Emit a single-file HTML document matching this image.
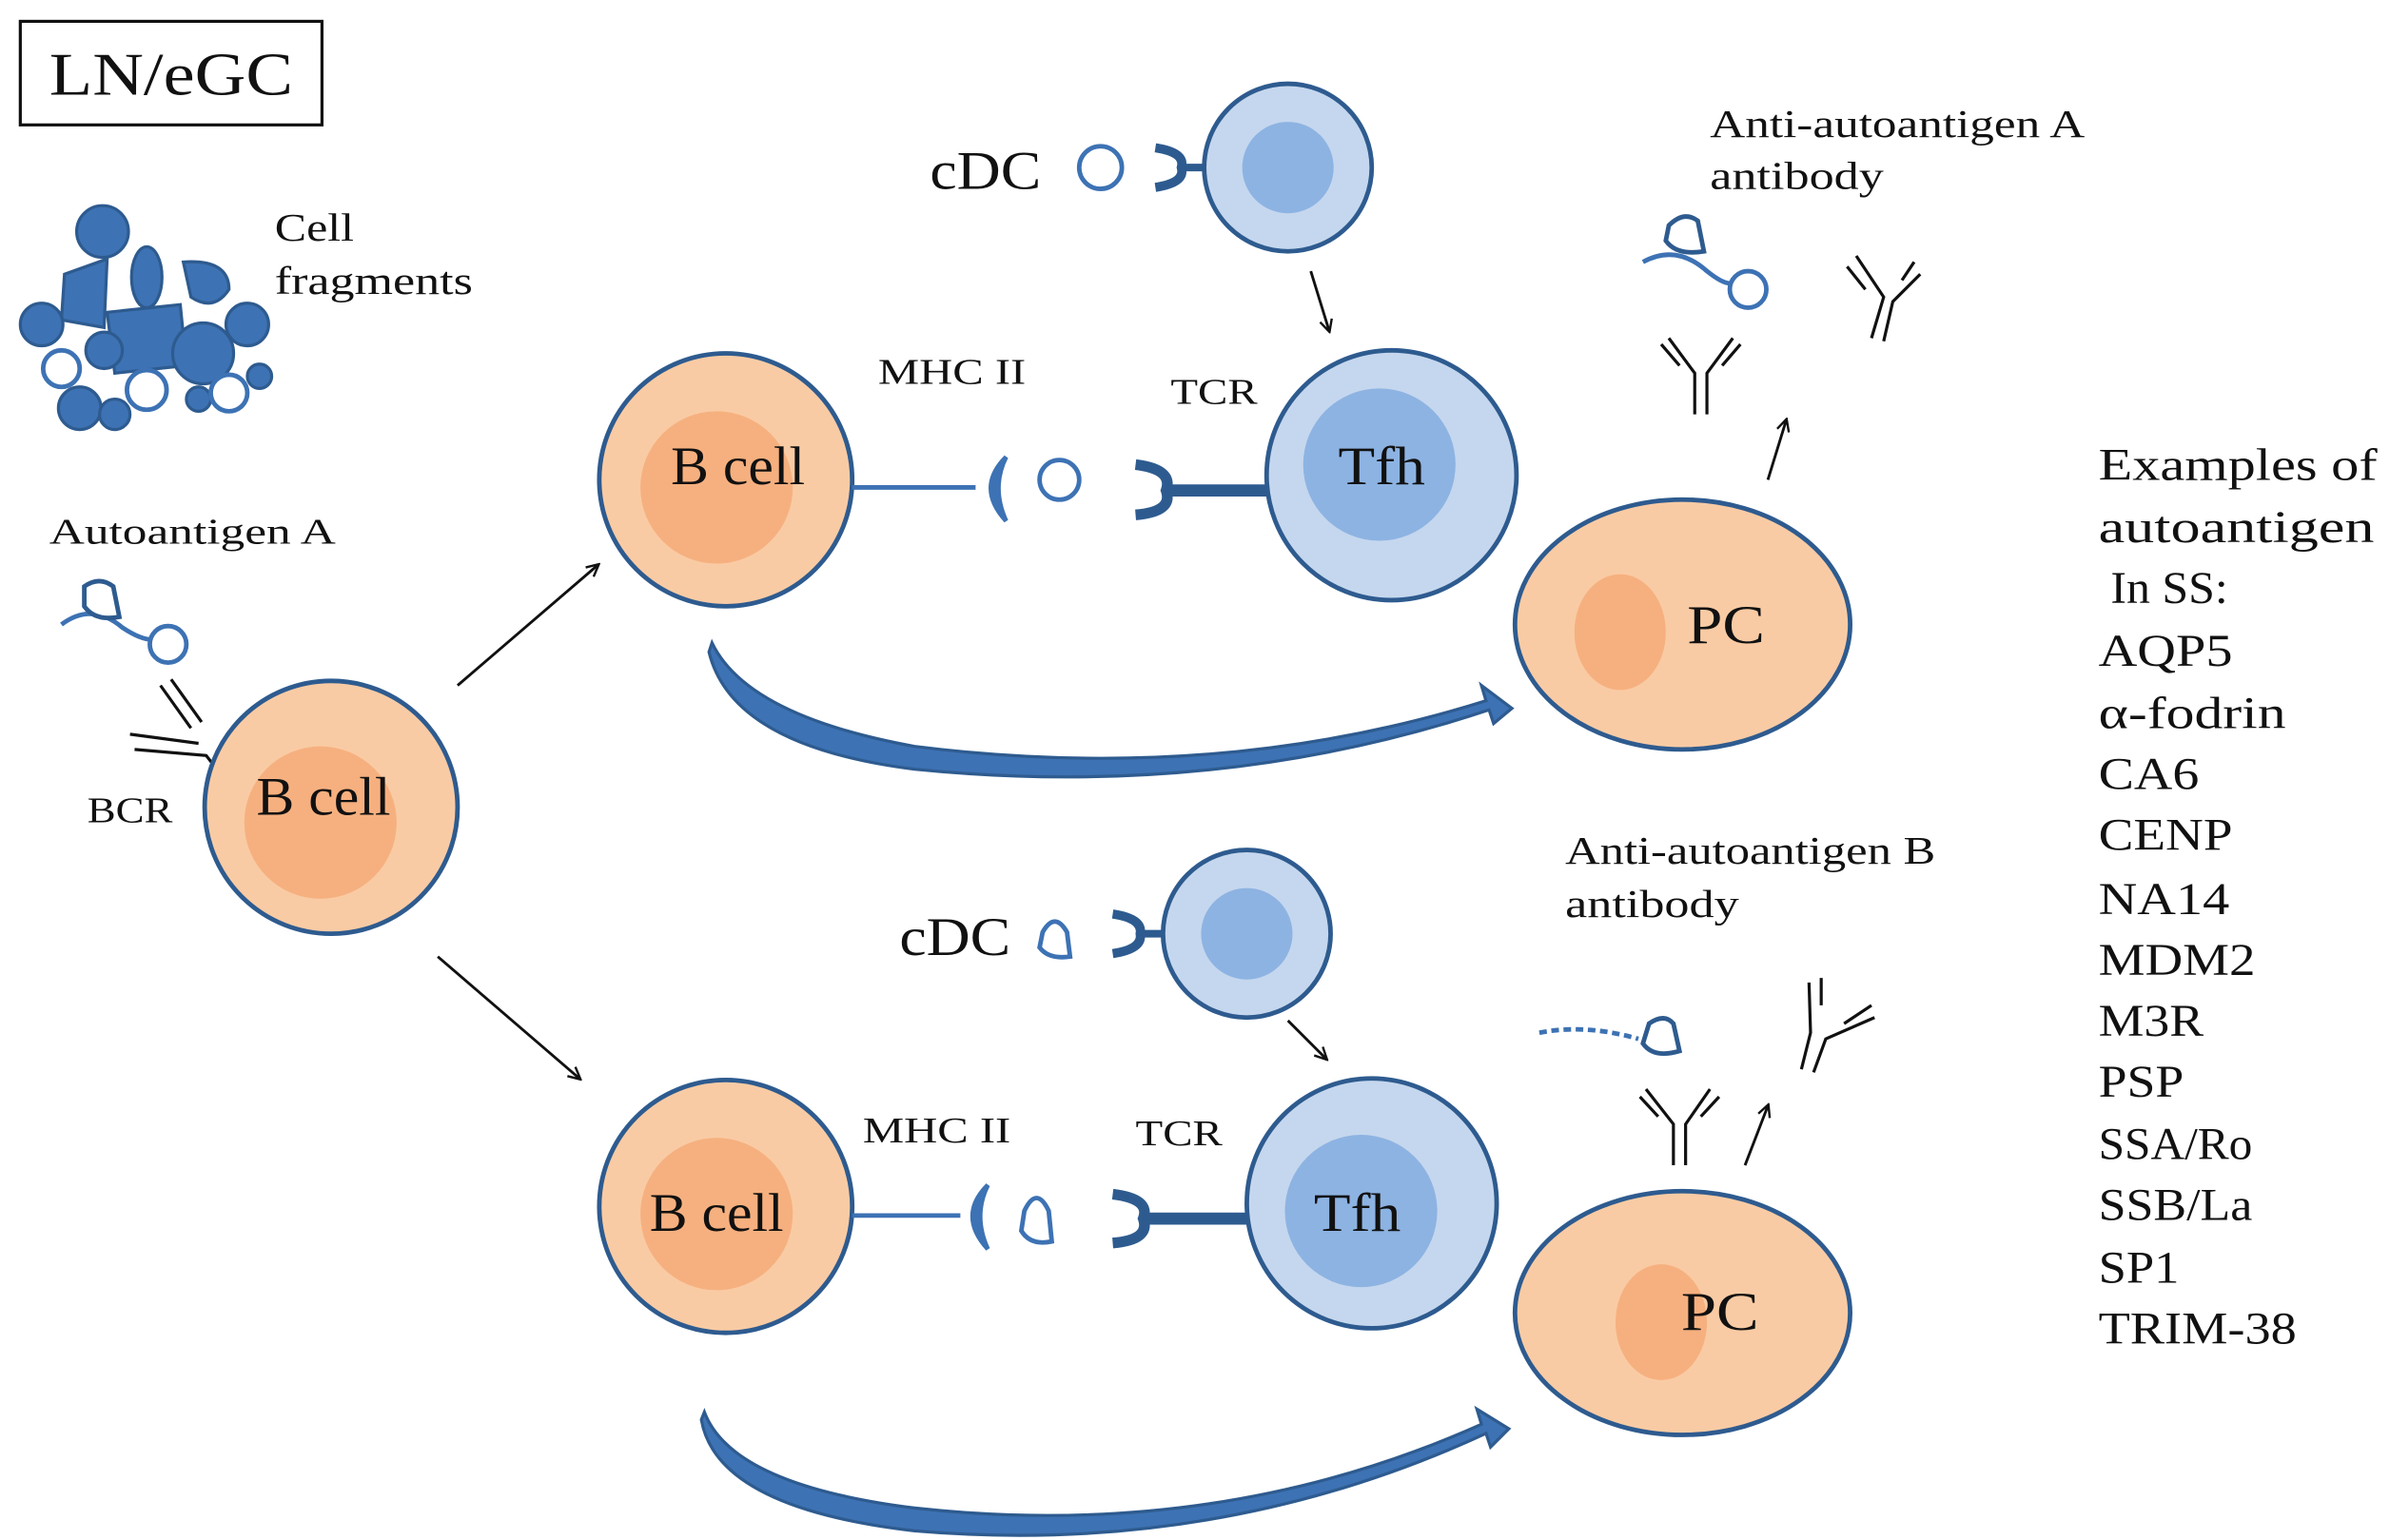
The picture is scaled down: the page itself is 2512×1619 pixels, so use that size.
<!DOCTYPE html>
<html><head><meta charset="utf-8"><style>
html,body{margin:0;padding:0;background:#fff}
svg{display:block}
text{font-family:"Liberation Serif",serif;fill:#111}
</style></head><body>
<svg width="2512" height="1619" viewBox="0 0 1568 1011" xmlns="http://www.w3.org/2000/svg">
<defs>
<marker id="ar" markerWidth="10" markerHeight="10" refX="8" refY="5" orient="auto" markerUnits="userSpaceOnUse">
<path d="M1,1 L9,5 L1,9" fill="none" stroke="#111" stroke-width="1.5"/></marker>
</defs>
<rect x="13" y="14" width="198" height="68" fill="#fff" stroke="#111" stroke-width="2"/>
<text x="32" y="62" font-size="40" textLength="160" lengthAdjust="spacingAndGlyphs">LN/eGC</text>

<g fill="#3d72b4" stroke="#2e5b8f" stroke-width="2">
<circle cx="67" cy="152" r="17"/><path d="M42,180 L70,170 L68,215 L40,210Z"/><ellipse cx="96" cy="182" rx="10" ry="20"/>
<path d="M120,172 Q150,170 150,190 Q140,205 125,195Z"/><circle cx="27" cy="213" r="14"/><path d="M70,205 L118,200 L122,240 L75,245Z"/>
<circle cx="133" cy="232" r="20"/><circle cx="162" cy="213" r="14"/><circle cx="68" cy="230" r="12"/><circle cx="52" cy="268" r="14"/>
<circle cx="75" cy="272" r="10"/><circle cx="130" cy="262" r="8"/><circle cx="170" cy="247" r="8"/>
</g>
<g fill="#fff" stroke="#3d72b4" stroke-width="3"><circle cx="40" cy="242" r="12"/><circle cx="96" cy="256" r="13"/><circle cx="150" cy="258" r="12"/></g>
<text x="180" y="158" font-size="26" textLength="52" lengthAdjust="spacingAndGlyphs">Cell</text><text x="180" y="193" font-size="26" textLength="130" lengthAdjust="spacingAndGlyphs">fragments</text>

<text x="32" y="357" font-size="24" textLength="188" lengthAdjust="spacingAndGlyphs">Autoantigen A</text>
<g stroke="#3d72b4" stroke-width="3" fill="none">
<path d="M40,410 Q60,395 80,412 Q92,420 100,420"/><path d="M55,385 Q65,378 74,385 L78,405 Q62,408 55,398Z" stroke="#2e5b8f" fill="#fff"/>
<circle cx="110" cy="423" r="12" fill="#fff"/></g>
<g stroke="#111" stroke-width="2" fill="none"><path d="M105,450 L125,478 M112,446 L132,474 M85,482 L130,488 M88,492 L135,496 L142,505"/></g>
<text x="57" y="540" font-size="24" textLength="56" lengthAdjust="spacingAndGlyphs">BCR</text>

<g stroke="#2e5b8f" stroke-width="3">
<circle cx="217" cy="530" r="83" fill="#f9cba4"/><circle cx="476" cy="315" r="83" fill="#f9cba4"/><circle cx="476" cy="792" r="83" fill="#f9cba4"/>
<circle cx="913" cy="312" r="82" fill="#c5d7ee"/><circle cx="900" cy="790" r="82" fill="#c5d7ee"/>
<circle cx="845" cy="110" r="55" fill="#c5d7ee"/><circle cx="818" cy="613" r="55" fill="#c5d7ee"/>
<ellipse cx="1104" cy="410" rx="110" ry="82" fill="#f9cba4"/><ellipse cx="1104" cy="862" rx="110" ry="80" fill="#f9cba4"/>
</g>
<g fill="#f6b07f"><circle cx="210" cy="540" r="50"/><circle cx="470" cy="320" r="50"/><circle cx="470" cy="797" r="50"/>
<ellipse cx="1063" cy="415" rx="30" ry="38"/><ellipse cx="1090" cy="868" rx="30" ry="38"/></g>
<g fill="#8db3e2"><circle cx="905" cy="305" r="50"/><circle cx="893" cy="795" r="50"/><circle cx="845" cy="110" r="30"/><circle cx="818" cy="613" r="30"/></g>

<g font-size="36" lengthAdjust="spacingAndGlyphs">
<text x="168" y="535" textLength="88" lengthAdjust="spacingAndGlyphs">B cell</text>
<text x="440" y="318" textLength="88" lengthAdjust="spacingAndGlyphs">B cell</text>
<text x="426" y="808" textLength="88" lengthAdjust="spacingAndGlyphs">B cell</text>
<text x="878" y="318" textLength="57" lengthAdjust="spacingAndGlyphs">Tfh</text>
<text x="862" y="808" textLength="57" lengthAdjust="spacingAndGlyphs">Tfh</text>
<text x="1107" y="422" textLength="51" lengthAdjust="spacingAndGlyphs">PC</text>
<text x="1103" y="873" textLength="51" lengthAdjust="spacingAndGlyphs">PC</text>
<text x="610" y="124" textLength="73" lengthAdjust="spacingAndGlyphs">cDC</text>
<text x="590" y="627" textLength="73" lengthAdjust="spacingAndGlyphs">cDC</text></g>
<g font-size="24">
<text x="576" y="252" textLength="97" lengthAdjust="spacingAndGlyphs">MHC II</text>
<text x="768" y="265" textLength="57" lengthAdjust="spacingAndGlyphs">TCR</text>
<text x="566" y="750" textLength="97" lengthAdjust="spacingAndGlyphs">MHC II</text>
<text x="745" y="752" textLength="57" lengthAdjust="spacingAndGlyphs">TCR</text></g>

<g stroke="#3d72b4" stroke-width="3" fill="none">
<line x1="559" y1="320" x2="640" y2="320"/>
<path d="M660,300 Q640,320 660,342 Q650,320 660,300Z" fill="#3d72b4"/>
<circle cx="695" cy="315" r="13" fill="#fff"/>
<line x1="559" y1="798" x2="630" y2="798"/>
<path d="M648,778 Q628,798 648,820 Q638,798 648,778Z" fill="#3d72b4"/>
<path d="M672,795 Q680,778 688,795 L690,815 Q676,818 670,808Z" fill="#fff"/>
</g>
<g stroke="#2e5b8f" fill="none">
<line x1="765" y1="322" x2="832" y2="322" stroke-width="8"/><path d="M745,305 Q770,308 765,322 Q770,336 745,338" stroke-width="7"/>
<line x1="750" y1="800" x2="818" y2="800" stroke-width="8"/><path d="M730,784 Q755,787 750,800 Q755,814 730,816" stroke-width="7"/>
<line x1="775" y1="110" x2="790" y2="110" stroke-width="5"/><path d="M758,97 Q778,100 775,110 Q778,120 758,123" stroke-width="6"/>
<line x1="748" y1="613" x2="763" y2="613" stroke-width="5"/><path d="M730,600 Q750,603 748,613 Q750,623 730,626" stroke-width="6"/>
</g>
<circle cx="722" cy="110" r="14" fill="#fff" stroke="#3d72b4" stroke-width="3"/>
<path d="M684,612 Q692,598 700,612 L702,628 Q688,630 682,622Z" fill="#fff" stroke="#3d72b4" stroke-width="3"/>

<g stroke="#111" stroke-width="1.8" marker-end="url(#ar)">
<line x1="300" y1="450" x2="392" y2="371"/><line x1="287" y1="628" x2="380" y2="708"/>
<line x1="860" y1="178" x2="872" y2="217"/><line x1="845" y1="670" x2="870" y2="695"/>
<line x1="1160" y1="315" x2="1172" y2="276"/><line x1="1145" y1="765" x2="1160" y2="726"/>
</g>

<path d="M467,422 Q490,470 600,490 Q800,515 975,460 L972,450 L992,465 L980,475 L977,466 Q800,525 600,505 Q480,490 465,428Z" fill="#3d72b4" stroke="#2e5b8f" stroke-width="2"/>
<path d="M462,927 Q480,975 600,990 Q800,1012 972,935 L969,925 L990,938 L978,950 L975,941 Q800,1022 600,1005 Q470,990 460,932Z" fill="#3d72b4" stroke="#2e5b8f" stroke-width="2"/>

<g stroke="#111" stroke-width="2" fill="none">
<path d="M1112,272 L1112,245 L1095,222 M1120,272 L1120,245 L1137,222 M1102,240 L1090,226 M1130,240 L1142,226"/>
<path d="M1228,222 L1236,195 L1218,168 M1236,224 L1242,198 L1260,180 M1224,190 L1212,175 M1248,184 L1256,172"/>
<path d="M1098,765 L1098,738 L1080,715 M1106,765 L1106,738 L1122,715 M1088,733 L1076,720 M1116,733 L1128,720"/>
<path d="M1182,702 L1188,678 L1187,645 M1190,704 L1198,682 L1230,668 M1195,660 L1195,642 M1210,672 L1228,660"/>
</g>
<g stroke="#3d72b4" stroke-width="3" fill="none">
<path d="M1078,172 Q1100,160 1120,178 Q1130,186 1135,186"/>
<path d="M1095,148 Q1105,138 1114,145 L1118,165 Q1100,168 1093,158Z" stroke="#2e5b8f" fill="#fff"/>
<circle cx="1147" cy="190" r="12" fill="#fff"/>
<path d="M1010,678 Q1040,672 1075,682" stroke-dasharray="5,3"/>
<path d="M1082,672 Q1092,665 1098,672 L1102,690 Q1085,695 1078,685Z" stroke="#2e5b8f" fill="#fff"/>
</g>
<g font-size="26">
<text x="1122" y="90" textLength="246" lengthAdjust="spacingAndGlyphs">Anti-autoantigen A</text>
<text x="1122" y="124" textLength="114" lengthAdjust="spacingAndGlyphs">antibody</text>
<text x="1027" y="567" textLength="243" lengthAdjust="spacingAndGlyphs">Anti-autoantigen B</text>
<text x="1027" y="602" textLength="114" lengthAdjust="spacingAndGlyphs">antibody</text></g>

<g font-size="30">
<text x="1377" y="315" textLength="183" lengthAdjust="spacingAndGlyphs">Examples of</text>
<text x="1377" y="356" textLength="181" lengthAdjust="spacingAndGlyphs">autoantigen</text>
<text x="1385" y="396" textLength="77" lengthAdjust="spacingAndGlyphs">In SS:</text>
<text x="1377" y="437" textLength="88" lengthAdjust="spacingAndGlyphs">AQP5</text>
<text x="1377" y="478" textLength="123" lengthAdjust="spacingAndGlyphs">α-fodrin</text>
<text x="1377" y="518" textLength="66" lengthAdjust="spacingAndGlyphs">CA6</text>
<text x="1377" y="558" textLength="88" lengthAdjust="spacingAndGlyphs">CENP</text>
<text x="1377" y="600" textLength="86" lengthAdjust="spacingAndGlyphs">NA14</text>
<text x="1377" y="640" textLength="103" lengthAdjust="spacingAndGlyphs">MDM2</text>
<text x="1377" y="680" textLength="69" lengthAdjust="spacingAndGlyphs">M3R</text>
<text x="1377" y="720" textLength="56" lengthAdjust="spacingAndGlyphs">PSP</text>
<text x="1377" y="761" textLength="101" lengthAdjust="spacingAndGlyphs">SSA/Ro</text>
<text x="1377" y="801" textLength="101" lengthAdjust="spacingAndGlyphs">SSB/La</text>
<text x="1377" y="842" textLength="53" lengthAdjust="spacingAndGlyphs">SP1</text>
<text x="1377" y="882" textLength="130" lengthAdjust="spacingAndGlyphs">TRIM-38</text>
</g>
</svg>
</body></html>
